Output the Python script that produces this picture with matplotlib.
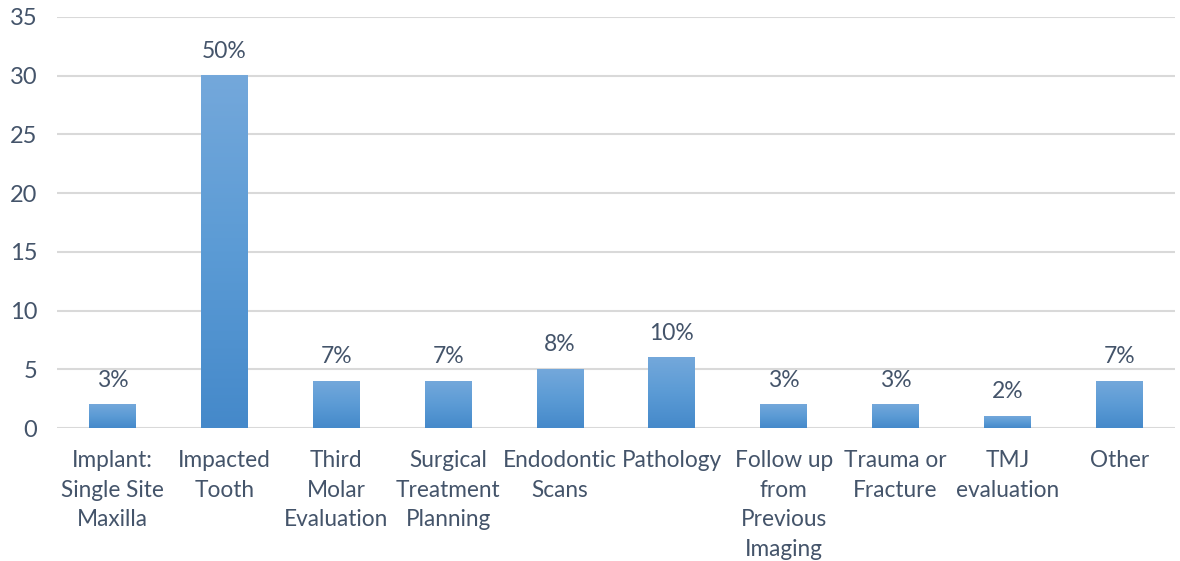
import numpy as np
import matplotlib.pyplot as plt
from matplotlib.colors import LinearSegmentedColormap

categories = ["Implant:\nSingle Site\nMaxilla", "Impacted\nTooth", "Third\nMolar\nEvaluation",
              "Surgical\nTreatment\nPlanning", "Endodontic\nScans", "Pathology",
              "Follow up\nfrom\nPrevious\nImaging", "Trauma or\nFracture", "TMJ\nevaluation", "Other"]
counts = [2, 30, 4, 4, 5, 6, 2, 2, 1, 4]
pct_labels = ["3%", "50%", "7%", "7%", "8%", "10%", "3%", "3%", "2%", "7%"]

plt.rcParams['font.family'] = ['Lato', 'DejaVu Sans']
text_color = '#44546A'

fig = plt.figure(figsize=(11.8, 5.61), dpi=100)
ax = fig.add_axes([0.048, 0.237, 0.948, 0.733])

x = np.arange(len(categories))
width = 0.42
bars = ax.bar(x, counts, width=width, color='none', zorder=2)

# vertical gradient inside each bar: lighter on top, darker at bottom
grad_cmap = LinearSegmentedColormap.from_list('g', ['#4589CA', '#5B9BD5', '#74A8DB'])
grad = np.linspace(0, 1, 256).reshape(-1, 1)
for b in bars:
    x0 = b.get_x()
    h = b.get_height()
    ax.imshow(grad, cmap=grad_cmap, origin='lower', aspect='auto',
              extent=(x0, x0 + b.get_width(), 0, h), zorder=2)

for xi, c, lab in zip(x, counts, pct_labels):
    ax.annotate(lab, (xi, c), xytext=(0, 10), textcoords='offset points',
                ha='center', va='bottom', fontsize=16.5, color=text_color)

ax.set_xlim(-0.5, len(categories) - 0.5)
ax.set_ylim(0, 35)
ax.set_yticks(range(0, 36, 5))
ax.set_xticks(x)
ax.set_xticklabels(categories, fontsize=16.3, color=text_color, linespacing=1.5, va='top')
ax.tick_params(axis='y', labelsize=17, labelcolor=text_color, length=0, pad=14)
ax.tick_params(axis='x', length=0, pad=16)
ax.grid(axis='y', color='#D9D9D9', linewidth=1.5, zorder=0)
ax.set_axisbelow(True)
for s in ax.spines.values():
    s.set_visible(False)

fig.savefig('out.png', dpi=100)
